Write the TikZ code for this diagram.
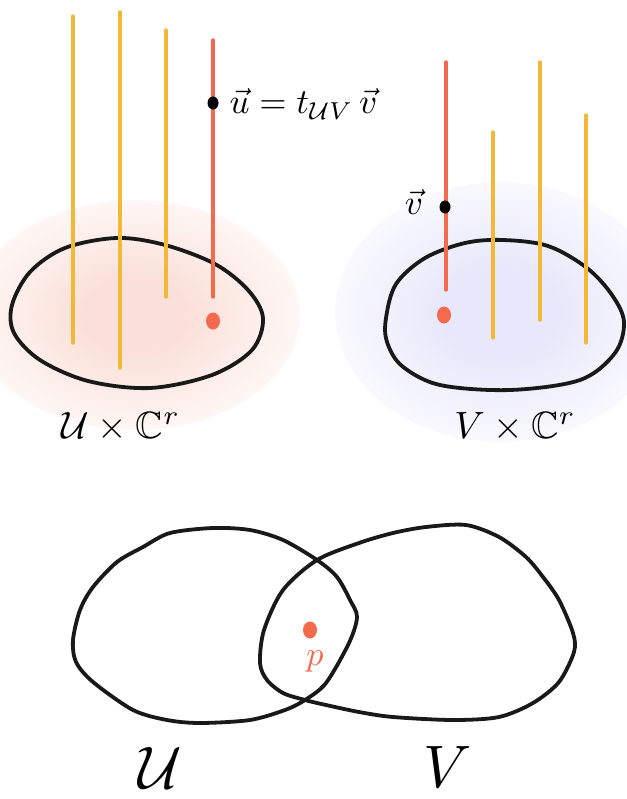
\documentclass[tikz,border=0pt]{standalone}
\usepackage{amsmath,amssymb}
\usepackage{tikz}
\usetikzlibrary{positioning,shapes.geometric}
\definecolor{fiberyellow}{RGB}{241,185,55}
\definecolor{fiberred}{RGB}{243,106,76}
\definecolor{blushpink}{RGB}{251,224,217}
\definecolor{lilac}{RGB}{232,231,251}
\pgfdeclareradialshading{pinkglow}{\pgfpoint{0bp}{0bp}}{color(0bp)=(blushpink); color(8bp)=(blushpink); color(31bp)=(white); color(50bp)=(white)}
\pgfdeclareradialshading{lilacglow}{\pgfpoint{0bp}{0bp}}{color(0bp)=(lilac); color(8bp)=(lilac); color(31bp)=(white); color(50bp)=(white)}

\begin{document}
\begin{tikzpicture}[
  x=1pt, y=-1pt,
  outline/.style = {line width=3.8pt, black!90, line join=round},
  fiber/.style = {line width=3.4pt, fiberyellow, line cap=round},
  redfiber/.style = {line width=3.4pt, fiberred, line cap=round},
  blackdot/.style = {ellipse, fill=black, inner sep=0pt, minimum width=11pt, minimum height=13pt},
  reddot/.style = {ellipse, fill=fiberred, inner sep=0pt, minimum width=14pt, minimum height=17pt},
  lbl/.style = {inner sep=0pt},
]
\useasboundingbox (0,0) rectangle (626,799);

% Glow behind the two charts
\shade[shading=pinkglow] (135,315) ellipse [x radius=165, y radius=115];
\shade[shading=lilacglow] (500,312) ellipse [x radius=165, y radius=130];

% Left chart
\draw[outline] plot[smooth cycle, tension=0.55] coordinates {(12,305) (30,272) (65,248) (117,238)
  (165,245) (215,264) (248,290) (263,318) (252,350) (212,375) (150,388) (88,381) (40,360) (14,333)};
\draw[fiber] (73,16) -- (73,343);
\draw[fiber] (120,12) -- (120,368);
\draw[fiber] (166,30) -- (166,297);
\draw[redfiber] (213,40) -- (213,297);
\node[blackdot] (udot) at (213,103) {};
\node[reddot] (ubase) at (213,321) {};
\node[lbl, anchor=west, scale=3.5] (ueq) at (229,104) {$\vec{u} = t_{\mathcal{U}V}\,\vec{v}$};
\node[lbl, scale=3.8] (uchart) at (121,427) {$\mathcal{U}\times\mathbb{C}^r$};

% Right chart
\draw[outline] plot[smooth cycle, tension=0.55] coordinates {(386,318) (396,284) (425,258) (465,243)
  (503,240) (548,246) (587,268) (612,295) (624,322) (615,353) (580,380) (510,390) (440,385)
  (402,366) (387,342)};
\draw[redfiber] (446,62) -- (446,290);
\draw[fiber] (493,132) -- (493,338);
\draw[fiber] (540,62) -- (540,320);
\draw[fiber] (586,115) -- (586,343);
\node[blackdot] (vdot) at (445,207) {};
\node[reddot] (vbase) at (444,315) {};
\node[lbl, scale=3.5] (vvec) at (414,202) {$\vec{v}$};
\node[lbl, scale=3.8] (vchart) at (515,427) {$V\times\mathbb{C}^r$};

% Overlapping opens
\draw[outline] plot[smooth cycle, tension=0.5] coordinates {(73,640) (80,610) (93,587) (117,562)
  (143,547) (170,533) (213,528) (250,530) (283,540) (317,560) (337,577) (350,600) (357,617)
  (349,643) (326,683) (305,700) (285,710) (250,720) (200,723) (167,720) (133,710) (93,682) (76,662)};
\draw[outline] plot[smooth cycle, tension=0.5] coordinates {(260,663) (264,630) (283,590) (317,560)
  (359,543) (393,533) (426,527) (466,525) (499,537) (526,557) (543,577) (559,600) (573,633)
  (574,652) (559,682) (533,703) (499,717) (453,720) (393,717) (359,712) (326,705) (305,700)
  (283,693) (267,680)};
\node[reddot] (p) at (310,630) {};
\node[lbl, text=fiberred, scale=3.4] (plabel) at (315,661) {$p$};
\node[lbl, scale=6] (U) at (160,768) {$\mathcal{U}$};
\node[lbl, scale=6] (V) at (448,767) {$V$};
\end{tikzpicture}
\end{document}
